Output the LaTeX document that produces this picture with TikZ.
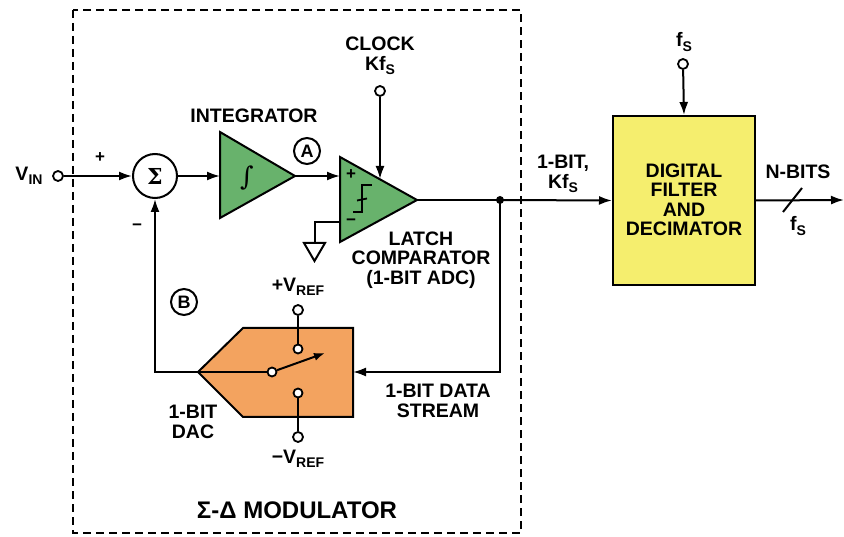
\documentclass[tikz,border=0pt]{standalone}
\usepackage{fontspec}
\setmainfont{Liberation Sans}
\newfontfamily\symserif{DejaVu Serif}
\usetikzlibrary{arrows.meta,shapes.geometric}
\newcommand\lowsub[1]{\raisebox{-0.4ex}{\fontsize{14}{14}\selectfont #1}}
\definecolor{grn}{RGB}{104,178,108}
\definecolor{org}{RGB}{243,163,95}
\definecolor{ylw}{RGB}{245,238,110}
\begin{document}
\begin{tikzpicture}[x=1pt,y=-1pt,line width=2pt,
  >={Latex[length=13pt,width=9pt]},
  lbl/.style={font=\fontsize{19.5}{19.5}\selectfont\bfseries,align=center,inner sep=0pt},
  sgn/.style={font=\fontsize{17}{17}\selectfont\bfseries,inner sep=0pt},
  term/.style={circle,draw,fill=white,minimum size=10pt,inner sep=0pt,line width=1.8pt},
  tag/.style={circle,draw,minimum size=26pt,inner sep=0pt,line width=2pt,font=\fontsize{18}{18}\selectfont\bfseries},
  modbox/.style={draw,dash pattern=on 8pt off 5pt,line width=2.4pt}]
\useasboundingbox (0,0) rectangle (844,537);

% modulator boundary
\draw[modbox] (73,10) rectangle (521,533);
\node[lbl,font=\fontsize{24}{24}\selectfont\bfseries] (modlbl) at (297,510) {Σ-Δ MODULATOR};

% shapes
\fill[grn] (220,132) -- (220,218) -- (295,176) -- cycle;
\draw (220,132) -- (220,218) -- (295,176) -- cycle;
\fill[grn] (340,157) -- (340,242) -- (417,200) -- cycle;
\draw (340,157) -- (340,242) -- (417,200) -- cycle;
\fill[org] (198,372) -- (243,328) -- (353,328) -- (353,417) -- (243,417) -- cycle;
\draw (198,372) -- (243,328) -- (353,328) -- (353,417) -- (243,417) -- cycle;
\node[draw,fill=ylw,minimum width=142pt,minimum height=169pt,inner sep=0pt] (filt) at (684,200.5) {};
\node[lbl] (filtlbl) at (684,200) {DIGITAL\\FILTER\\AND\\DECIMATOR};

\coordinate (intIn) at (220,176);
\coordinate (intOut) at (295,176);
\coordinate (cmpP) at (340,176);
\coordinate (cmpM) at (340,222);
\coordinate (cmpOut) at (417,200);
\coordinate (clkEnd) at (380,179);
\coordinate (gnd) at (314.5,243);
\coordinate (dacIn) at (353,372);
\coordinate (outEnd) at (844,200);
\coordinate (swTip) at (325,353);

% symbols inside
\node[inner sep=0pt,font=\symserif\itshape\fontsize{26}{26}\selectfont] (intsym) at (247,178) {∫};
\draw[line width=1.8pt] (353,212) -- (362,212) -- (362,185) -- (372,185);
\draw[line width=1.8pt] (357,200.5) -- (367,198.5);
\node[sgn] (cp) at (351,175) {+};
\node[sgn] (cm) at (351,222) {−};

% ground
\draw (cmpM) -| (gnd);
\draw (304,243) -- (325,243) -- (314.5,261) -- cycle;

% nodes
\node[term] (vin) at (58,176) {};
\node[circle,draw,minimum size=44pt,inner sep=0pt,fill=white,font=\symserif\bfseries\fontsize{22}{22}\selectfont] (sum) at (155,176) {Σ};
\node[term] (clk) at (380,91) {};
\node[circle,fill,minimum size=8pt,inner sep=0pt] (junc) at (500,200) {};
\node[term] (fsT) at (683,64) {};
\node[term] (vrefp) at (298,310) {};
\node[term,minimum size=9pt] (swA) at (298,349) {};
\node[term,minimum size=9pt] (swB) at (298,393) {};
\node[term] (vrefm) at (298,437) {};
\node[tag] (tagA) at (307,151) {A};
\node[tag] (tagB) at (184,302) {B};

% connectors
\draw[->] (vin) -- (sum);
\draw[->] (sum) -- (intIn);
\draw[->] (intOut) -- (cmpP);
\draw[->] (clk) -- (clkEnd);
\draw (cmpOut) -- (junc.center);
\draw[->] (junc.center) -- (filt.west);
\draw[->] (fsT) -- (filt.north);
\draw[->] (filt.east) -- (outEnd);
\draw (783,212) -- (802,188);
\draw[->] (junc.center) |- (dacIn);
\draw (vrefp) -- (swA);
\draw (swB) -- (vrefm);
\node[term,minimum size=9pt] (pivot) at (272,372) {};
\draw[->] (pivot.west) -| (sum.south);
\draw[->,>={Latex[length=11pt,width=8pt]}] (pivot) -- (swTip);

% labels
\node[lbl] (vinlbl) at (29,176) {V\lowsub{IN}};
\node[sgn] (plus) at (100,158) {+};
\node[sgn] (minus) at (137,227) {−};
\node[lbl] (intlbl) at (254,116) {INTEGRATOR};
\node[lbl] (clklbl) at (380,56) {CLOCK\\Kf\lowsub{S}};
\node[lbl] (cmplbl) at (421,260) {LATCH\\COMPARATOR\\(1-BIT ADC)};
\node[lbl] (vplbl) at (298,287) {+V\lowsub{REF}};
\node[lbl] (vmlbl) at (298,459) {−V\lowsub{REF}};
\node[lbl] (daclbl) at (193,422) {1-BIT\\DAC};
\node[lbl] (dslbl) at (438,401) {1-BIT DATA\\STREAM};
\node[lbl] (kflbl) at (563,174) {1-BIT,\\Kf\lowsub{S}};
\node[lbl] (fslbl) at (684,42) {f\lowsub{S}};
\node[lbl] (nblbl) at (798,172) {N-BITS};
\node[lbl] (fs2lbl) at (798,226) {f\lowsub{S}};
\end{tikzpicture}
\end{document}
